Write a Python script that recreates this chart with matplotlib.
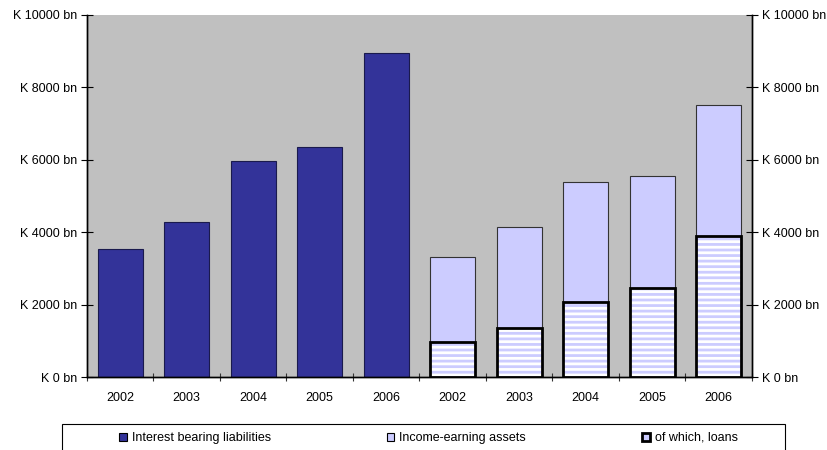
import matplotlib
matplotlib.use("Agg")
import matplotlib.pyplot as plt
from matplotlib.patches import Patch, Rectangle
import numpy as np

plt.rcParams['font.family'] = ['Liberation Sans', 'DejaVu Sans']
plt.rcParams['hatch.linewidth'] = 2.0

years = ["2002", "2003", "2004", "2005", "2006"]
liabilities = [3540, 4280, 5970, 6350, 8950]
assets = [3310, 4140, 5390, 5550, 7510]
loans = [970, 1350, 2070, 2460, 3890]
yticks = [0, 2000, 4000, 6000, 8000, 10000]
ytick_labels = [f"K {v} bn" for v in yticks]

dark = "#333399"
light = "#CCCCFF"
bg = "#C0C0C0"

W, H = 828, 450
fig = plt.figure(figsize=(W/100, H/100), dpi=100)
ax = fig.add_axes([87/W, 1-377/H, (752-87)/W, (377-15)/H])
ax.set_facecolor(bg)

n = len(years)
x_liab = np.arange(n)
x_asset = np.arange(n, 2*n)
w = 0.68

ax.bar(x_liab, liabilities, width=w, color=dark, edgecolor="#1a1a4d", linewidth=0.8, zorder=2)
ax.bar(x_asset, assets, width=w, color=light, edgecolor="#333333", linewidth=0.8, zorder=2)
# striped loans segment: light fill with white horizontal hatch, then a heavy outline
ax.bar(x_asset, loans, width=w, color=light, edgecolor="white", hatch="---", linewidth=0, zorder=3)
ax.bar(x_asset, loans, width=w, fill=False, edgecolor="black", linewidth=2.0, zorder=4)

ax.set_xlim(-0.5, 2*n - 0.5)
ax.set_ylim(0, 10000)
ax.set_yticks(yticks)
ax.set_yticklabels(ytick_labels, fontsize=9)
ax.tick_params(axis="y", direction="inout", length=8, width=0.8, pad=3)

ax.set_xticks(np.arange(2*n))
ax.set_xticklabels(years + years, fontsize=9)
ax.tick_params(axis="x", which="major", length=0, pad=11)
ax.set_xticks(np.arange(-0.5, 2*n, 1.0), minor=True)
ax.tick_params(axis="x", which="minor", length=6, direction="inout", color="#333333", width=0.8)

ax2 = ax.twinx()
ax2.set_ylim(0, 10000)
ax2.set_yticks(yticks)
ax2.set_yticklabels(ytick_labels, fontsize=9)
ax2.tick_params(axis="y", direction="inout", length=8, width=0.8, pad=3)

for a in (ax, ax2):
    a.spines["top"].set_visible(False)
    for s in ("left", "right", "bottom"):
        a.spines[s].set_linewidth(1.0)
        a.spines[s].set_color("black")

# legend frame running past the bottom edge of the figure
fig.patches.append(Rectangle((62/W, -0.05), (785-62)/W, 0.05 + 1-424/H,
                             transform=fig.transFigure, fill=False,
                             edgecolor="black", linewidth=0.8))

handles = [
    Patch(facecolor=dark, edgecolor="black", linewidth=0.8, label="Interest bearing liabilities"),
    Patch(facecolor=light, edgecolor="black", linewidth=0.8, label="Income-earning assets"),
    Patch(facecolor=light, edgecolor="black", linewidth=2.0, label="of which, loans"),
]
leg = fig.legend(handles=handles, ncol=3, loc="center",
                 bbox_to_anchor=((62+785)/2/W + 5/W, 1-438/H),
                 frameon=False, fontsize=9,
                 handlelength=0.6, handleheight=0.6, handletextpad=0.4,
                 columnspacing=9.3, borderpad=0, borderaxespad=0)

fig.savefig("out.png", dpi=100)
